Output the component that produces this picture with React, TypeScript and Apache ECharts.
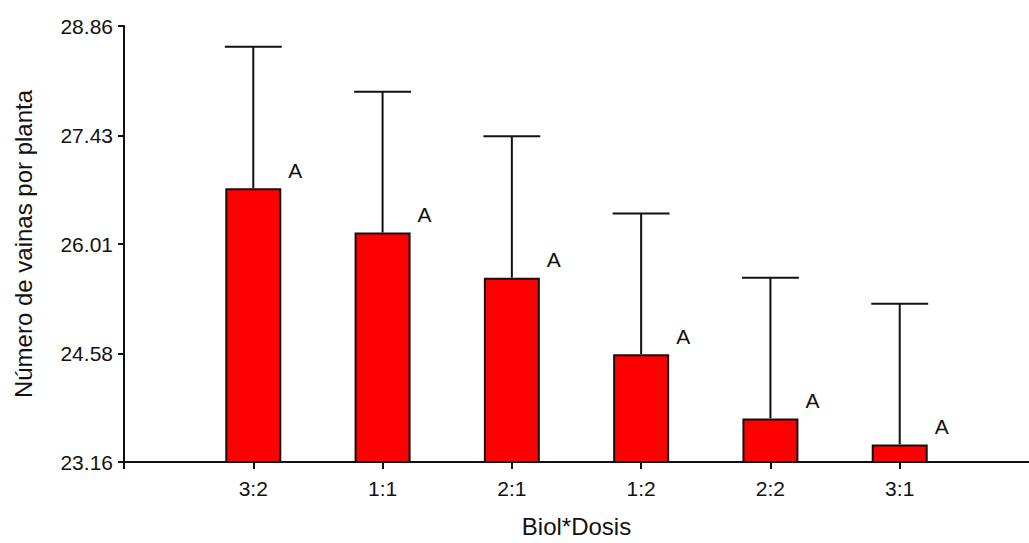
import React, { useEffect, useRef } from "react";
import * as echarts from "echarts";

const categories = ["3:2", "1:1", "2:1", "1:2", "2:2", "3:1"];
const positions = [1, 2, 3, 4, 5, 6];
const means = [26.74, 26.16, 25.57, 24.57, 23.73, 23.39];
const upperValues = [28.59, 28.0, 27.42, 26.41, 25.57, 25.23];
const letters = ["A", "A", "A", "A", "A", "A"];
const yTicks = [23.16, 24.58, 26.01, 27.43, 28.86];
const xTicks = [0, 1, 2, 3, 4, 5, 6];

const FONT = "Liberation Sans, Arial, sans-serif";

export default function App() {
  const ref = useRef<HTMLDivElement>(null);
  useEffect(() => {
    if (!ref.current) return;
    const chart = echarts.init(ref.current, undefined, { renderer: "svg" });
    const axisLine = { lineStyle: { color: "#111", width: 2 } };
    chart.setOption({
      animation: false,
      backgroundColor: "#fff",
      grid: { left: 124, right: 0, top: 26, bottom: 78, containLabel: false },
      xAxis: {
        type: "value",
        min: 0,
        max: 7,
        name: "Biol*Dosis",
        nameLocation: "middle",
        nameGap: 52,
        nameTextStyle: { color: "#111", fontSize: 24, fontFamily: FONT },
        axisLine: { show: true, onZero: false, ...axisLine },
        axisTick: { show: true, length: 7, customValues: xTicks, lineStyle: { color: "#111", width: 2 } },
        axisLabel: {
          customValues: positions,
          color: "#111",
          fontSize: 21,
          fontFamily: FONT,
          margin: 16,
          formatter: (v: number) => {
            const i = positions.indexOf(Math.round(v));
            return i >= 0 ? categories[i] : "";
          },
        },
        splitLine: { show: false },
      },
      yAxis: {
        type: "value",
        min: yTicks[0],
        max: yTicks[yTicks.length - 1],
        name: "Número de vainas por planta",
        nameLocation: "middle",
        nameGap: 89,
        nameTextStyle: { color: "#111", fontSize: 24, fontFamily: FONT },
        axisLine: { show: true, ...axisLine },
        axisTick: { show: true, length: 6, customValues: yTicks, lineStyle: { color: "#111", width: 2 } },
        axisLabel: {
          customValues: yTicks,
          color: "#111",
          fontSize: 21,
          fontFamily: FONT,
          margin: 11,
          formatter: (v: number) => v.toFixed(2),
        },
        splitLine: { show: false },
      },
      series: [
        {
          type: "bar",
          data: means.map((v, i) => [positions[i], v]),
          barWidth: 56,
          itemStyle: { color: "#ff0000", borderColor: "#111", borderWidth: 2 },
          label: {
            show: true,
            position: [70, -18],
            align: "center",
            verticalAlign: "middle",
            color: "#111",
            fontSize: 21,
            fontFamily: FONT,
            formatter: (p: any) => letters[p.dataIndex],
          },
        },
        {
          type: "custom",
          data: means.map((v, i) => [positions[i], v, upperValues[i]]),
          renderItem: (params: any, api: any) => {
            const x = api.value(0);
            const lo = api.coord([x, api.value(1)]);
            const hi = api.coord([x, api.value(2)]);
            const half = api.size([1, 0])[0] * 0.22;
            const style = { stroke: "#111", lineWidth: 2 };
            return {
              type: "group",
              children: [
                { type: "line", shape: { x1: lo[0], y1: lo[1], x2: hi[0], y2: hi[1] }, style },
                { type: "line", shape: { x1: hi[0] - half, y1: hi[1], x2: hi[0] + half, y2: hi[1] }, style },
              ],
            };
          },
          z: 3,
        },
      ],
    });
    return () => chart.dispose();
  }, []);
  return (
    <div
      ref={ref}
      style={{ position: "fixed", left: 0, top: 0, width: 1029, height: 543, background: "#fff" }}
    />
  );
}
